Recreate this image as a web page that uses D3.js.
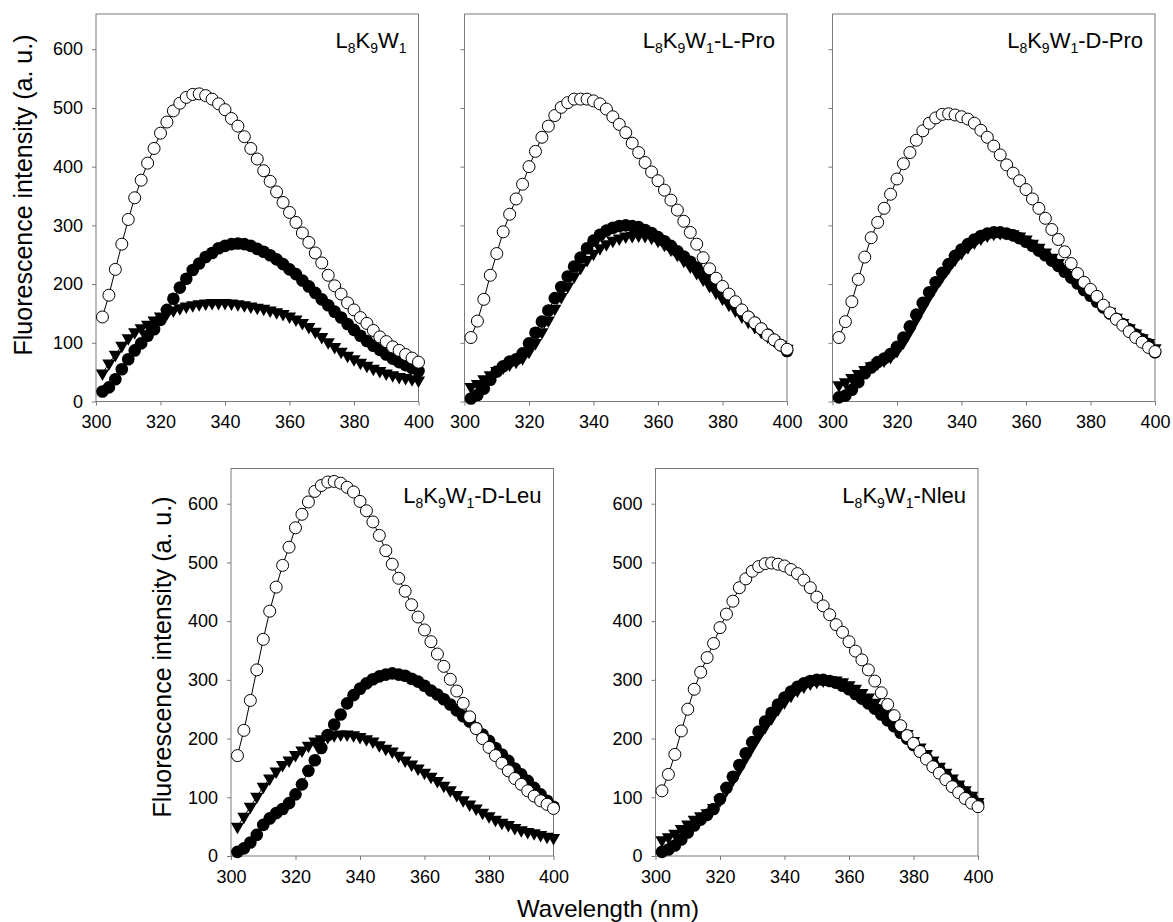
<!DOCTYPE html>
<html>
<head>
<meta charset="utf-8">
<script src="https://cdn.jsdelivr.net/npm/d3@7"></script>
<style>
  html, body { margin: 0; padding: 0; background: #fff; }
  svg { display: block; font-family: "Liberation Sans", Arial, Helvetica, sans-serif; }
</style>
</head>
<body>
<svg id="chart" width="1173" height="922"></svg>
<script>
// Emission wavelengths (nm), 2 nm steps
const wavelengths = d3.range(302, 401, 2);

const xTicks = [300, 320, 340, 360, 380, 400];
const yTicks = [0, 100, 200, 300, 400, 500, 600];

// Peptide names: base name + suffix
const peptideSuffix = ["", "-L-Pro", "-D-Pro", "-D-Leu", "-Nleu"];

// L8K9W1
const base_open = [144,181,225,268,310,347,377,406,431,457, 476,495,508,518,523,524,521,515,507,497,
  482,469,451,431,413,393,375,357,339,322, 305,287,271,253,236,215,197,183,168,156,
  143,133,121,110,102,93,87,80,74,67];
const base_filled = [17,24,38,55,72,87,99,112,123,139, 156,175,194,209,224,235,246,253,261,265,
  268,269,268,265,260,255,249,242,234,225, 217,206,196,185,174,164,153,143,132,122,
  112,103,95,88,80,73,67,62,57,52];
const base_tri = [48,65,80,95,108,118,125,131,138,145, 150,155,159,162,164,166,167,168,168,168,
  167,166,164,162,160,158,155,152,149,145, 140,134,127,119,110,101,93,85,78,72,
  66,61,56,52,48,45,42,40,38,36];

// L8K9W1-L-Pro
const lpro_open = [109,137,174,215,252,289,319,345,370,400, 426,450,469,487,501,509,515,515,515,512,
  507,498,485,472,458,440,424,407,391,376, 360,343,326,307,288,268,245,226,210,196,
  183,170,156,144,134,124,113,105,96,89];
const lpro_filled = [5,11,22,37,51,60,68,72,82,99, 117,136,155,176,195,213,230,245,261,274,
  284,291,296,299,300,299,297,292,287,280, 273,265,256,247,238,228,218,207,197,186,
  176,165,154,144,134,124,114,105,96,86];
const lpro_tri = [25,30,38,45,52,58,63,68,74,85, 100,118,138,158,178,196,213,228,241,252,
  261,268,274,278,281,282,283,282,279,274, 267,259,250,240,230,219,208,197,186,175,
  165,155,145,136,127,119,111,104,97,90];

// L8K9W1-D-Pro
const dpro_open = [109,136,170,208,246,279,305,329,353,379, 405,424,445,461,474,483,489,490,488,485,
  481,474,462,450,435,420,403,389,376,361, 345,329,312,293,276,255,235,218,203,191,
  179,164,151,140,130,119,109,101,92,85];
const dpro_filled = [7,10,20,33,48,58,67,73,81,93, 109,128,148,168,186,203,219,234,248,259,
  268,276,282,286,288,288,286,283,278,272, 265,257,249,240,231,221,211,201,190,180,
  170,160,150,141,132,123,114,106,98,84];
const dpro_tri = [28,33,40,47,54,60,65,70,76,86, 101,120,140,160,179,197,213,228,242,253,
  263,271,278,283,286,287,287,285,281,276, 269,262,254,245,236,226,215,204,193,183,
  173,163,153,143,134,125,116,108,100,91];

// L8K9W1-D-Leu
const dleu_open = [171,214,265,317,369,417,458,495,526,559, 582,603,621,631,637,638,635,628,620,604,
  588,569,546,520,497,473,451,428,407,385, 365,344,323,301,281,260,237,217,200,185,
  171,158,145,132,122,111,102,94,88,81];
const dleu_filled = [7,13,23,36,53,64,73,80,90,105, 122,145,163,184,206,224,241,260,274,285,
  294,301,306,309,311,309,307,302,297,290, 282,275,267,258,248,238,229,218,207,196,
  184,173,162,149,139,128,116,105,94,84];
const dleu_tri = [50,67,84,101,118,132,144,155,163,172, 180,188,195,199,203,206,207,207,206,203,
  199,195,189,183,178,171,163,156,149,142, 135,128,120,112,104,95,88,81,74,68,
  62,57,53,48,44,41,39,36,33,31];

// L8K9W1-Nleu
const nleu_open = [111,139,173,213,250,284,313,338,362,389, 412,434,457,472,485,493,498,499,497,494,
  488,481,470,457,441,426,411,394,381,365, 349,334,317,298,278,258,239,222,205,192,
  178,165,152,141,130,118,108,98,90,84];
const nleu_filled = [7,11,18,28,40,52,62,70,80,97, 116,135,155,175,194,212,229,244,258,270,
  280,288,294,298,300,300,298,295,290,284, 276,268,260,251,241,231,221,210,200,189,
  178,168,157,147,137,127,118,108,99,89];
const nleu_tri = [27,32,38,46,54,62,68,73,82,95, 112,130,148,167,186,204,220,235,250,262,
  273,282,289,294,297,299,300,299,296,291, 285,278,270,261,252,241,230,219,208,196,
  185,174,163,152,142,132,122,112,103,92];

const panelData = [
  { open: base_open, filled: base_filled, tri: base_tri },
  { open: lpro_open, filled: lpro_filled, tri: lpro_tri },
  { open: dpro_open, filled: dpro_filled, tri: dpro_tri },
  { open: dleu_open, filled: dleu_filled, tri: dleu_tri },
  { open: nleu_open, filled: nleu_filled, tri: nleu_tri }
];

// Panel frames (left, top) and which ones carry y tick labels
const W = 322.5, H = 387.5;
const frames = [
  { left: 96,    top: 14,    yLabels: true },
  { left: 464.5, top: 14,    yLabels: false },
  { left: 832.5, top: 14,    yLabels: false },
  { left: 231,   top: 468.5, yLabels: true },
  { left: 655.5, top: 468.5, yLabels: true }
];

const svg = d3.select("#chart");
svg.append("rect").attr("width", 1173).attr("height", 922).attr("fill", "#fff");

const axisGrey = "#7a7a7a";
const triPath = "M-6.6,-3.9L6.6,-3.9L0,7.6Z";

frames.forEach((f, i) => {
  const data = panelData[i];
  const x = d3.scaleLinear().domain([300, 400]).range([0, W]);
  const y = d3.scaleLinear().domain([0, 660]).range([H, 0]);
  const g = svg.append("g").attr("transform", `translate(${f.left},${f.top})`);

  // x axis
  const xa = g.append("g").attr("transform", `translate(0,${H})`)
    .call(d3.axisBottom(x).tickValues(xTicks).tickSize(4).tickPadding(10).tickFormat(d3.format("d")));
  xa.select(".domain").remove();
  xa.selectAll("line").attr("stroke", axisGrey);
  xa.selectAll("text").attr("font-size", 18).attr("fill", "#000")
    .attr("font-family", "Liberation Sans, Arial, sans-serif");

  // y axis
  const ya = g.append("g")
    .call(d3.axisLeft(y).tickValues(yTicks).tickSize(4).tickPadding(9).tickFormat(d3.format("d")));
  ya.select(".domain").remove();
  ya.selectAll("line").attr("stroke", axisGrey);
  ya.selectAll("text").attr("font-size", 18).attr("fill", "#000")
    .attr("font-family", "Liberation Sans, Arial, sans-serif");
  if (!f.yLabels) ya.selectAll("text").remove();

  // frame
  g.append("rect").attr("x", 0).attr("y", 0).attr("width", W).attr("height", H)
    .attr("fill", "none").attr("stroke", axisGrey).attr("stroke-width", 1);

  const pts = vals => vals.map((v, k) => [wavelengths[k], v]);
  const line = d3.line().x(d => x(d[0])).y(d => y(d[1]));

  // triangles (down)
  g.append("path").datum(pts(data.tri)).attr("d", line)
    .attr("fill", "none").attr("stroke", "#000").attr("stroke-width", 1);
  g.append("g").selectAll("path").data(pts(data.tri)).join("path")
    .attr("d", triPath)
    .attr("transform", d => `translate(${x(d[0])},${y(d[1])})`)
    .attr("fill", "#000");

  // filled circles
  g.append("path").datum(pts(data.filled)).attr("d", line)
    .attr("fill", "none").attr("stroke", "#000").attr("stroke-width", 1);
  g.append("g").selectAll("circle").data(pts(data.filled)).join("circle")
    .attr("cx", d => x(d[0])).attr("cy", d => y(d[1])).attr("r", 6.3)
    .attr("fill", "#000");

  // open circles
  g.append("path").datum(pts(data.open)).attr("d", line)
    .attr("fill", "none").attr("stroke", "#000").attr("stroke-width", 1);
  g.append("g").selectAll("circle").data(pts(data.open)).join("circle")
    .attr("cx", d => x(d[0])).attr("cy", d => y(d[1])).attr("r", 6)
    .attr("fill", "#fff").attr("stroke", "#000").attr("stroke-width", 1);

  // panel title: L8K9W1 with subscripts, then suffix
  const t = g.append("text").attr("x", W - 12).attr("y", 34)
    .attr("text-anchor", "end").attr("font-size", 22).attr("fill", "#000");
  const parts = [["L", 0], ["8", 1], ["K", 0], ["9", 1], ["W", 0], ["1", 1]];
  let shifted = false;
  parts.forEach(([s, sub]) => {
    const ts = t.append("tspan").text(s);
    if (sub && !shifted) { ts.attr("dy", 5).attr("font-size", 14); shifted = true; }
    else if (sub) { ts.attr("font-size", 14); }
    else if (shifted) { ts.attr("dy", -5); shifted = false; }
  });
  if (peptideSuffix[i]) t.append("tspan").attr("dy", shifted ? -5 : 0).text(peptideSuffix[i]);
});

// shared axis titles
svg.append("text").attr("transform", "translate(32,195) rotate(-90)")
  .attr("text-anchor", "middle").attr("font-size", 25).attr("fill", "#000")
  .text("Fluorescence intensity (a. u.)");
svg.append("text").attr("transform", "translate(171,657) rotate(-90)")
  .attr("text-anchor", "middle").attr("font-size", 25).attr("fill", "#000")
  .text("Fluorescence intensity (a. u.)");
svg.append("text").attr("x", 608).attr("y", 917)
  .attr("text-anchor", "middle").attr("font-size", 24).attr("fill", "#000")
  .text("Wavelength (nm)");
</script>
</body>
</html>
